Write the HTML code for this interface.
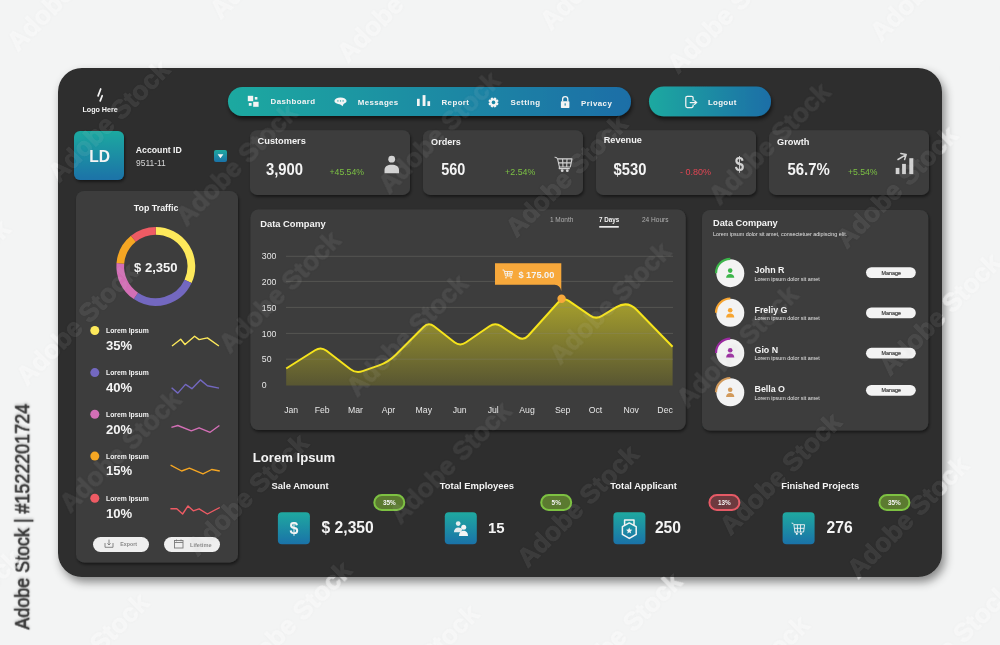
<!DOCTYPE html>
<html><head><meta charset="utf-8"><style>html,body{margin:0;padding:0;background:#f3f4f4;}svg{display:block;will-change:transform;}</style></head>
<body><svg width="1000" height="645" viewBox="0 0 1000 645">
<defs>
<linearGradient id="gNav" x1="0" y1="0" x2="1" y2="0"><stop offset="0" stop-color="#1fa9a0"/><stop offset="1" stop-color="#1a6ea7"/></linearGradient>
<linearGradient id="gV" x1="0" y1="0" x2="0" y2="1"><stop offset="0" stop-color="#1fa9a0"/><stop offset="1" stop-color="#1a72a8"/></linearGradient>
<linearGradient id="gFill" x1="0" y1="0" x2="0" y2="1"><stop offset="0" stop-color="#a7a02d"/><stop offset="1" stop-color="#585632"/></linearGradient>
<filter id="shP" x="-10%" y="-10%" width="130%" height="130%"><feDropShadow dx="3" dy="5" stdDeviation="5" flood-color="#000" flood-opacity="0.45"/></filter>
<filter id="shC" x="-10%" y="-10%" width="130%" height="130%"><feDropShadow dx="1" dy="2" stdDeviation="1.6" flood-color="#000" flood-opacity="0.5"/></filter>
<filter id="shN" x="-10%" y="-30%" width="130%" height="180%"><feDropShadow dx="1" dy="3" stdDeviation="2" flood-color="#000" flood-opacity="0.6"/></filter>
<filter id="shT" x="-10%" y="-10%" width="130%" height="130%"><feDropShadow dx="1.2" dy="0" stdDeviation="0.8" flood-color="#000" flood-opacity="0.25"/></filter>
<filter id="wmB" x="-20%" y="-20%" width="140%" height="140%"><feGaussianBlur stdDeviation="1.5"/></filter>
<mask id="mOut" maskUnits="userSpaceOnUse" x="0" y="0" width="1000" height="645"><rect width="1000" height="645" fill="#fff"/><rect x="58" y="68" width="884" height="509" rx="24" fill="#000"/></mask>
</defs>
<rect width="1000" height="645" fill="#f3f4f4"/>
<text transform="translate(29.2,629.6) rotate(-90)" font-family="Liberation Sans, sans-serif" font-size="20.5" textLength="225.6" lengthAdjust="spacingAndGlyphs" fill="#383838" stroke="#383838" stroke-width="0.6" filter="url(#shT)">Adobe Stock | #1522201724</text>
<rect x="58" y="68" width="884" height="509" rx="24" fill="#2d2d2d" filter="url(#shP)"/>
<g stroke="#f4f4f4" stroke-width="1.7" stroke-linecap="round"><line x1="100.7" y1="89" x2="98.1" y2="95.9"/><line x1="102.2" y1="95.7" x2="100.2" y2="100.9"/></g>
<text x="82.40" y="111.90" font-family="Liberation Sans, sans-serif" font-weight="bold" font-size="7.16" fill="#f4f4f4" >Logo Here</text>
<rect x="228" y="87" width="403" height="29" rx="14.5" fill="url(#gNav)" filter="url(#shN)"/>
<rect x="649" y="86.6" width="122" height="29.7" rx="14.8" fill="url(#gNav)" filter="url(#shN)"/>
<text x="270.60" y="104.20" font-family="Liberation Sans, sans-serif" font-weight="bold" font-size="7.90" fill="#f4f4f4"  letter-spacing="0.418">Dashboard</text>
<text x="357.80" y="104.90" font-family="Liberation Sans, sans-serif" font-weight="bold" font-size="7.90" fill="#f4f4f4"  letter-spacing="0.391">Messages</text>
<text x="441.50" y="104.90" font-family="Liberation Sans, sans-serif" font-weight="bold" font-size="7.90" fill="#f4f4f4"  letter-spacing="0.408">Report</text>
<text x="510.50" y="105.10" font-family="Liberation Sans, sans-serif" font-weight="bold" font-size="7.90" fill="#f4f4f4"  letter-spacing="0.470">Setting</text>
<text x="581.10" y="106.00" font-family="Liberation Sans, sans-serif" font-weight="bold" font-size="7.90" fill="#f4f4f4"  letter-spacing="0.433">Privacy</text>
<text x="707.90" y="105.40" font-family="Liberation Sans, sans-serif" font-weight="bold" font-size="7.90" fill="#f4f4f4"  letter-spacing="0.328">Logout</text>
<g fill="#f4f4f4"><rect x="247.8" y="95.8" width="5.4" height="5.4"/><rect x="254.8" y="97" width="2.6" height="2.6"/><rect x="248.8" y="103" width="2.8" height="2.8"/><rect x="253.2" y="101.8" width="5.4" height="5"/></g>
<g><ellipse cx="340.5" cy="100.9" rx="6.1" ry="3.5" fill="#f4f4f4"/><path d="M339.4,103.6 L342.6,106.3 L344,103.1Z" fill="#f4f4f4"/><circle cx="337.9" cy="100.9" r="0.7" fill="#1fa0a2"/><circle cx="340.5" cy="100.9" r="0.7" fill="#1fa0a2"/><circle cx="343.1" cy="100.9" r="0.7" fill="#1fa0a2"/></g>
<g fill="#f4f4f4"><rect x="417" y="98.8" width="2.7" height="7.2"/><rect x="422.6" y="95.1" width="2.9" height="10.9"/><rect x="427.4" y="101.2" width="2.7" height="4.8"/></g>
<g fill="#f4f4f4"><rect x="492.40" y="97.30" width="2.2" height="2.4" rx="0.4" transform="rotate(22.5 493.5 102.4)"/><rect x="492.40" y="97.30" width="2.2" height="2.4" rx="0.4" transform="rotate(67.5 493.5 102.4)"/><rect x="492.40" y="97.30" width="2.2" height="2.4" rx="0.4" transform="rotate(112.5 493.5 102.4)"/><rect x="492.40" y="97.30" width="2.2" height="2.4" rx="0.4" transform="rotate(157.5 493.5 102.4)"/><rect x="492.40" y="97.30" width="2.2" height="2.4" rx="0.4" transform="rotate(202.5 493.5 102.4)"/><rect x="492.40" y="97.30" width="2.2" height="2.4" rx="0.4" transform="rotate(247.5 493.5 102.4)"/><rect x="492.40" y="97.30" width="2.2" height="2.4" rx="0.4" transform="rotate(292.5 493.5 102.4)"/><rect x="492.40" y="97.30" width="2.2" height="2.4" rx="0.4" transform="rotate(337.5 493.5 102.4)"/><circle cx="493.5" cy="102.4" r="4.0"/></g><circle cx="493.5" cy="102.4" r="1.8" fill="#1a86a3"/>
<g><path d="M562.6,101.5 V99.2 A2.6,2.6 0 0 1 567.8,99.2 V101.5" fill="none" stroke="#f4f4f4" stroke-width="1.3"/><rect x="560.9" y="101.3" width="8.5" height="6.6" rx="0.6" fill="#f4f4f4"/><rect x="564.6" y="103.3" width="1.1" height="2.3" fill="#1a80a5"/></g>
<g fill="none" stroke="#f4f4f4" stroke-width="1.25" stroke-linecap="round"><path d="M693.1,100.4 V97.8 A1.5,1.5 0 0 0 691.6,96.3 H687.3 A1.5,1.5 0 0 0 685.8,97.8 V106 A1.5,1.5 0 0 0 687.3,107.5 H691.6 A1.5,1.5 0 0 0 693.1,106 V104.9"/><path d="M690.2,102.6 H696.4 M694.6,100.8 L696.6,102.6 L694.6,104.4"/></g>
<rect x="74" y="131" width="50" height="49" rx="6" fill="url(#gV)" filter="url(#shC)"/>
<text x="89.21" y="161.60" font-family="Liberation Sans, sans-serif" font-weight="bold" font-size="15.60" fill="#f4f4f4" >LD</text>
<text x="135.80" y="152.50" font-family="Liberation Sans, sans-serif" font-weight="bold" font-size="8.72" fill="#f4f4f4" >Account ID</text>
<text x="136.00" y="166.20" font-family="Liberation Sans, sans-serif" font-size="8.45" fill="#d6d6d6" >9511-11</text>
<rect x="214" y="150" width="13" height="12" rx="2" fill="url(#gV)"/>
<path d="M217.6,154.2 H223.4 L220.5,158.2Z" fill="#f4f4f4"/>
<rect x="76" y="191" width="162" height="371.4" rx="8" fill="#3c3d3d" filter="url(#shC)"/>
<text x="133.80" y="211.30" font-family="Liberation Sans, sans-serif" font-weight="bold" font-size="8.85" fill="#f4f4f4" >Top Traffic</text>
<path d="M155.80,230.80 A35.6,35.6 0 0 1 188.06,281.45" fill="none" stroke="#fde95b" stroke-width="7.7"/>
<path d="M188.06,281.45 A35.6,35.6 0 0 1 135.89,295.91" fill="none" stroke="#7368c0" stroke-width="7.7"/>
<path d="M135.89,295.91 A35.6,35.6 0 0 1 120.34,263.30" fill="none" stroke="#d36fb6" stroke-width="7.7"/>
<path d="M120.34,263.30 A35.6,35.6 0 0 1 133.40,238.73" fill="none" stroke="#f5a623" stroke-width="7.7"/>
<path d="M133.40,238.73 A35.6,35.6 0 0 1 155.80,230.80" fill="none" stroke="#ee5b64" stroke-width="7.7"/>
<text x="134.10" y="272.20" font-family="Liberation Sans, sans-serif" font-weight="bold" font-size="13.06" fill="#f4f4f4" >$ 2,350</text>
<circle cx="94.8" cy="330.5" r="4.5" fill="#fde95b"/>
<text x="106.00" y="332.90" font-family="Liberation Sans, sans-serif" font-weight="bold" font-size="6.80" fill="#f4f4f4" >Lorem Ipsum</text>
<text x="106.00" y="349.80" font-family="Liberation Sans, sans-serif" font-weight="bold" font-size="13.10" fill="#f4f4f4" >35%</text>
<polyline points="172,346 180.7,339.2 185,344.5 194.6,336.3 199.1,339.6 207.4,337.9 218.9,346" fill="none" stroke="#fde95b" stroke-width="1.4" stroke-linejoin="round"/>
<circle cx="94.8" cy="372.6" r="4.5" fill="#7368c0"/>
<text x="106.00" y="375.00" font-family="Liberation Sans, sans-serif" font-weight="bold" font-size="6.80" fill="#f4f4f4" >Lorem Ipsum</text>
<text x="106.00" y="391.90" font-family="Liberation Sans, sans-serif" font-weight="bold" font-size="13.10" fill="#f4f4f4" >40%</text>
<polyline points="171.6,387.7 177.8,393.1 185.5,384.4 191.9,388.7 200.4,379.9 207.4,385.8 219,388.1" fill="none" stroke="#7368c0" stroke-width="1.4" stroke-linejoin="round"/>
<circle cx="94.8" cy="414.2" r="4.5" fill="#d36fb6"/>
<text x="106.00" y="416.60" font-family="Liberation Sans, sans-serif" font-weight="bold" font-size="6.80" fill="#f4f4f4" >Lorem Ipsum</text>
<text x="106.00" y="433.50" font-family="Liberation Sans, sans-serif" font-weight="bold" font-size="13.10" fill="#f4f4f4" >20%</text>
<polyline points="171.4,427.4 177.8,425.5 191.3,430.9 199.1,427.8 210.1,432.3 219.4,425.5" fill="none" stroke="#d36fb6" stroke-width="1.4" stroke-linejoin="round"/>
<circle cx="94.8" cy="456.1" r="4.5" fill="#f5a623"/>
<text x="106.00" y="458.50" font-family="Liberation Sans, sans-serif" font-weight="bold" font-size="6.80" fill="#f4f4f4" >Lorem Ipsum</text>
<text x="106.00" y="475.40" font-family="Liberation Sans, sans-serif" font-weight="bold" font-size="13.10" fill="#f4f4f4" >15%</text>
<polyline points="170.6,465.2 181.6,471 189.4,468.1 203,473.9 211.7,469.5 219.8,471" fill="none" stroke="#f5a623" stroke-width="1.4" stroke-linejoin="round"/>
<circle cx="94.8" cy="498.2" r="4.5" fill="#ee5b64"/>
<text x="106.00" y="500.60" font-family="Liberation Sans, sans-serif" font-weight="bold" font-size="6.80" fill="#f4f4f4" >Lorem Ipsum</text>
<text x="106.00" y="517.50" font-family="Liberation Sans, sans-serif" font-weight="bold" font-size="13.10" fill="#f4f4f4" >10%</text>
<polyline points="170.4,508.8 176.8,508.8 182.6,514 188,505.9 193.3,510.8 199.1,508.8 207.4,514 219.8,507.5" fill="none" stroke="#ee5b64" stroke-width="1.4" stroke-linejoin="round"/>
<rect x="93" y="537" width="56" height="15" rx="7.5" fill="#efefef"/><rect x="164" y="537" width="56" height="15" rx="7.5" fill="#efefef"/>
<text x="120.20" y="546.40" font-family="Liberation Sans, sans-serif" font-weight="bold" font-size="5.30" fill="#8a8a8a" >Export</text>
<text x="190.00" y="546.60" font-family="Liberation Sans, sans-serif" font-weight="bold" font-size="5.61" fill="#8a8a8a" >Lifetime</text>
<g fill="none" stroke="#7a7a7a" stroke-width="0.9"><path d="M105,543 V547.3 H113 V543"/><path d="M109,539.6 V545 M107.4,543.4 L109,545 L110.6,543.4"/></g>
<g fill="none" stroke="#7a7a7a" stroke-width="0.9"><rect x="174.5" y="540.5" width="8.5" height="7.5"/><line x1="174.5" y1="542.5" x2="183" y2="542.5"/><path d="M176.5,539.5 V541.3 M181,539.5 V541.3"/></g>
<rect x="250" y="130.3" width="160" height="64.6" rx="7" fill="#3c3d3d" filter="url(#shC)"/>
<text x="257.60" y="144.30" font-family="Liberation Sans, sans-serif" font-weight="bold" font-size="9.24" fill="#f4f4f4" >Customers</text>
<text transform="translate(266.00,174.90) scale(1,1.08)" font-family="Liberation Sans, sans-serif" font-weight="bold" font-size="14.83" fill="#f4f4f4" >3,900</text>
<text x="329.50" y="174.90" font-family="Liberation Sans, sans-serif" font-size="8.68" fill="#7cc144" >+45.54%</text>
<rect x="423" y="130.3" width="160" height="64.6" rx="7" fill="#3c3d3d" filter="url(#shC)"/>
<text x="431.10" y="144.80" font-family="Liberation Sans, sans-serif" font-weight="bold" font-size="9.09" fill="#f4f4f4" >Orders</text>
<text transform="translate(441.30,174.90) scale(1,1.08)" font-family="Liberation Sans, sans-serif" font-weight="bold" font-size="14.45" fill="#f4f4f4" >560</text>
<text x="505.10" y="174.90" font-family="Liberation Sans, sans-serif" font-size="8.86" fill="#7cc144" >+2.54%</text>
<rect x="596" y="130.3" width="160" height="64.6" rx="7" fill="#3c3d3d" filter="url(#shC)"/>
<text x="603.70" y="143.40" font-family="Liberation Sans, sans-serif" font-weight="bold" font-size="9.19" fill="#f4f4f4" >Revenue</text>
<text transform="translate(613.60,174.90) scale(1,1.08)" font-family="Liberation Sans, sans-serif" font-weight="bold" font-size="14.74" fill="#f4f4f4" >$530</text>
<text x="680.10" y="174.90" font-family="Liberation Sans, sans-serif" font-size="8.99" fill="#e04553" >- 0.80%</text>
<rect x="769" y="130.3" width="160" height="64.6" rx="7" fill="#3c3d3d" filter="url(#shC)"/>
<text x="777.00" y="145.10" font-family="Liberation Sans, sans-serif" font-weight="bold" font-size="9.26" fill="#f4f4f4" >Growth</text>
<text transform="translate(787.50,174.90) scale(1,1.08)" font-family="Liberation Sans, sans-serif" font-weight="bold" font-size="14.96" fill="#f4f4f4" >56.7%</text>
<text x="847.90" y="174.90" font-family="Liberation Sans, sans-serif" font-size="8.68" fill="#7cc144" >+5.54%</text>
<circle cx="391.7" cy="159.2" r="3.4" fill="#d3d3d3"/><path d="M384.5,173.2 V170 C384.5,166.5 387.5,164.8 391.7,164.8 C395.9,164.8 399,166.5 399,170 V173.2Z" fill="#d3d3d3"/>
<g fill="none" stroke="#d3d3d3" stroke-width="1.1" stroke-linejoin="round"><path d="M554.6,157.3 Q556.6,157 557.6,158.9 H572 L570.3,167 H559.4 L557.6,158.9"/><path d="M558.5,162.9 H571.2 M562.6,158.9 L563,167 M567,158.9 L566.7,167 M559.4,167 L559.2,168.6 H569.8"/></g><circle cx="562.2" cy="170.7" r="1.4" fill="#d3d3d3"/><circle cx="567.3" cy="170.7" r="1.4" fill="#d3d3d3"/>
<text transform="translate(739.5,170.6) scale(0.84,1.04)" text-anchor="middle" font-family="Liberation Sans, sans-serif" font-weight="bold" font-size="20" fill="#d3d3d3">$</text>
<g fill="#d3d3d3"><rect x="895.7" y="167.9" width="3.7" height="6.2"/><rect x="902.1" y="163.9" width="3.8" height="10.2"/><rect x="909.3" y="158.2" width="4" height="15.9"/></g><g stroke="#d3d3d3" stroke-width="1.5" fill="none" stroke-linecap="round" stroke-linejoin="round"><path d="M898,159.5 L906.2,154.6 M900.8,153.4 L906.2,154.6 L904.6,159.6"/></g>
<rect x="250.5" y="209.5" width="435.2" height="220.6" rx="8" fill="#3c3d3d" filter="url(#shC)"/>
<text x="260.30" y="227.40" font-family="Liberation Sans, sans-serif" font-weight="bold" font-size="9.33" fill="#f4f4f4" >Data Company</text>
<text x="549.90" y="222.20" font-family="Liberation Sans, sans-serif" font-size="6.51" fill="#b0b0b0" >1 Month</text>
<text x="599.10" y="222.20" font-family="Liberation Sans, sans-serif" font-weight="bold" font-size="6.29" fill="#f4f4f4" >7 Days</text>
<rect x="599.2" y="226" width="19.6" height="1.7" fill="#e8e8e8"/>
<text x="641.90" y="222.20" font-family="Liberation Sans, sans-serif" font-size="6.58" fill="#b0b0b0" >24 Hours</text>
<path d="M286.20,368.50 L315.08,350.24 Q321.00,346.50 326.54,350.78 L350.46,369.22 Q356.00,373.50 362.60,371.16 L379.07,365.34 Q388.50,362.00 395.57,354.93 L423.55,326.95 Q428.50,322.00 434.03,326.30 L454.47,342.20 Q460.00,346.50 465.77,342.53 L489.43,326.27 Q495.20,322.30 501.04,326.16 L517.66,337.14 Q523.50,341.00 528.18,335.79 L558.32,302.21 Q563.00,297.00 568.78,300.94 L590.22,315.56 Q596.00,319.50 601.99,315.88 L616.37,307.21 Q627.50,300.50 636.57,309.81 L672.60,346.80 L672.6,385.6 L286.2,385.6Z" fill="url(#gFill)"/>
<line x1="286" y1="256.3" x2="673" y2="256.3" stroke="#8a8a80" stroke-opacity="0.45" stroke-width="0.7"/>
<text x="261.80" y="259.40" font-family="Liberation Sans, sans-serif" font-size="8.70" fill="#e6e6e6" >300</text>
<line x1="286" y1="281.4" x2="673" y2="281.4" stroke="#8a8a80" stroke-opacity="0.45" stroke-width="0.7"/>
<text x="261.80" y="284.50" font-family="Liberation Sans, sans-serif" font-size="8.70" fill="#e6e6e6" >200</text>
<line x1="286" y1="307.4" x2="673" y2="307.4" stroke="#8a8a80" stroke-opacity="0.45" stroke-width="0.7"/>
<text x="261.80" y="310.50" font-family="Liberation Sans, sans-serif" font-size="8.70" fill="#e6e6e6" >150</text>
<line x1="286" y1="333.4" x2="673" y2="333.4" stroke="#8a8a80" stroke-opacity="0.45" stroke-width="0.7"/>
<text x="261.80" y="336.50" font-family="Liberation Sans, sans-serif" font-size="8.70" fill="#e6e6e6" >100</text>
<line x1="286" y1="359.2" x2="673" y2="359.2" stroke="#8a8a80" stroke-opacity="0.45" stroke-width="0.7"/>
<text x="261.80" y="362.30" font-family="Liberation Sans, sans-serif" font-size="8.70" fill="#e6e6e6" >50</text>
<text x="261.80" y="388.30" font-family="Liberation Sans, sans-serif" font-size="8.70" fill="#e6e6e6" >0</text>
<path d="M286.20,368.50 L315.08,350.24 Q321.00,346.50 326.54,350.78 L350.46,369.22 Q356.00,373.50 362.60,371.16 L379.07,365.34 Q388.50,362.00 395.57,354.93 L423.55,326.95 Q428.50,322.00 434.03,326.30 L454.47,342.20 Q460.00,346.50 465.77,342.53 L489.43,326.27 Q495.20,322.30 501.04,326.16 L517.66,337.14 Q523.50,341.00 528.18,335.79 L558.32,302.21 Q563.00,297.00 568.78,300.94 L590.22,315.56 Q596.00,319.50 601.99,315.88 L616.37,307.21 Q627.50,300.50 636.57,309.81 L672.60,346.80" fill="none" stroke="#f6e41c" stroke-width="2"/>
<text x="284.19" y="412.80" font-family="Liberation Sans, sans-serif" font-size="8.70" fill="#e6e6e6" >Jan</text>
<text x="314.71" y="412.80" font-family="Liberation Sans, sans-serif" font-size="8.70" fill="#e6e6e6" >Feb</text>
<text x="347.91" y="412.80" font-family="Liberation Sans, sans-serif" font-size="8.70" fill="#e6e6e6" >Mar</text>
<text x="381.64" y="412.80" font-family="Liberation Sans, sans-serif" font-size="8.70" fill="#e6e6e6" >Apr</text>
<text x="415.58" y="412.80" font-family="Liberation Sans, sans-serif" font-size="8.70" fill="#e6e6e6" >May</text>
<text x="452.69" y="412.80" font-family="Liberation Sans, sans-serif" font-size="8.70" fill="#e6e6e6" >Jun</text>
<text x="487.64" y="412.80" font-family="Liberation Sans, sans-serif" font-size="8.70" fill="#e6e6e6" >Jul</text>
<text x="519.26" y="412.80" font-family="Liberation Sans, sans-serif" font-size="8.70" fill="#e6e6e6" >Aug</text>
<text x="554.96" y="412.80" font-family="Liberation Sans, sans-serif" font-size="8.70" fill="#e6e6e6" >Sep</text>
<text x="588.74" y="412.80" font-family="Liberation Sans, sans-serif" font-size="8.70" fill="#e6e6e6" >Oct</text>
<text x="623.47" y="412.80" font-family="Liberation Sans, sans-serif" font-size="8.70" fill="#e6e6e6" >Nov</text>
<text x="657.37" y="412.80" font-family="Liberation Sans, sans-serif" font-size="8.70" fill="#e6e6e6" >Dec</text>
<path d="M495,263.3 H561.3 V291 Q560,285 554.8,284.8 H495Z" fill="#f7a83b"/>
<text x="518.40" y="278.00" font-family="Liberation Sans, sans-serif" font-weight="bold" font-size="9.25" fill="#f4f4f4" >$ 175.00</text>
<g fill="none" stroke="#f4f4f4" stroke-width="0.9"><path d="M502.5,270 H504 L505.5,276 H511.5 L512.5,271.5 H504.5 M505,273.8 H512 M507.5,271.5 V276 M510,271.5 V276"/></g><circle cx="506" cy="277.7" r="0.8" fill="#f4f4f4"/><circle cx="511" cy="277.7" r="0.8" fill="#f4f4f4"/>
<circle cx="561.6" cy="298.8" r="4.2" fill="#f7a83b"/>
<rect x="702" y="210" width="226.3" height="220.6" rx="8" fill="#3c3d3d" filter="url(#shC)"/>
<text x="713.00" y="226.40" font-family="Liberation Sans, sans-serif" font-weight="bold" font-size="9.25" fill="#f4f4f4" >Data Company</text>
<text x="713.00" y="236.00" font-family="Liberation Sans, sans-serif" font-size="5.40" fill="#e0e0e0" >Lorem ipsum dolor sit amet, consectetuer adipiscing elit.</text>
<circle cx="730.3" cy="273.2" r="14" fill="#f3f3f3"/>
<path d="M716.00,273.20 A14.3,14.3 0 0 1 730.30,258.90" fill="none" stroke="#3cb54a" stroke-width="2.2"/>
<circle cx="730.2" cy="270.6" r="2.3" fill="#3cb54a"/><path d="M726.1,277.8 C726.1,275.1 727.9,273.9 730.2,273.9 C732.5,273.9 734.3,275.1 734.3,277.8 Z" fill="#3cb54a"/>
<text x="754.50" y="273.20" font-family="Liberation Sans, sans-serif" font-weight="bold" font-size="8.85" fill="#f4f4f4" >John R</text>
<text x="754.50" y="280.60" font-family="Liberation Sans, sans-serif" font-size="5.41" fill="#e6e6e6" >Lorem ipsum dolor sit amet</text>
<rect x="866" y="267.2" width="49.8" height="10.8" rx="5.4" fill="#f3f3f3"/>
<text x="881.44" y="274.50" font-family="Liberation Sans, sans-serif" font-size="5.40" fill="#333" stroke="#333" stroke-width="0.15">Manage</text>
<circle cx="730.3" cy="312.8" r="14" fill="#f3f3f3"/>
<path d="M716.00,312.80 A14.3,14.3 0 0 1 730.30,298.50" fill="none" stroke="#f7a531" stroke-width="2.2"/>
<circle cx="730.2" cy="310.2" r="2.3" fill="#f7a531"/><path d="M726.1,317.4 C726.1,314.7 727.9,313.5 730.2,313.5 C732.5,313.5 734.3,314.7 734.3,317.4 Z" fill="#f7a531"/>
<text x="754.50" y="312.80" font-family="Liberation Sans, sans-serif" font-weight="bold" font-size="8.85" fill="#f4f4f4" >Freliy G</text>
<text x="754.50" y="320.20" font-family="Liberation Sans, sans-serif" font-size="5.41" fill="#e6e6e6" >Lorem ipsum dolor sit amet</text>
<rect x="866" y="307.5" width="49.8" height="10.8" rx="5.4" fill="#f3f3f3"/>
<text x="881.44" y="314.80" font-family="Liberation Sans, sans-serif" font-size="5.40" fill="#333" stroke="#333" stroke-width="0.15">Manage</text>
<circle cx="730.3" cy="352.9" r="14" fill="#f3f3f3"/>
<path d="M716.00,352.90 A14.3,14.3 0 0 1 730.30,338.60" fill="none" stroke="#9b2aa0" stroke-width="2.2"/>
<circle cx="730.2" cy="350.3" r="2.3" fill="#9b2aa0"/><path d="M726.1,357.5 C726.1,354.8 727.9,353.6 730.2,353.6 C732.5,353.6 734.3,354.8 734.3,357.5 Z" fill="#9b2aa0"/>
<text x="754.50" y="352.90" font-family="Liberation Sans, sans-serif" font-weight="bold" font-size="8.85" fill="#f4f4f4" >Gio N</text>
<text x="754.50" y="360.30" font-family="Liberation Sans, sans-serif" font-size="5.41" fill="#e6e6e6" >Lorem ipsum dolor sit amet</text>
<rect x="866" y="347.8" width="49.8" height="10.8" rx="5.4" fill="#f3f3f3"/>
<text x="881.44" y="355.10" font-family="Liberation Sans, sans-serif" font-size="5.40" fill="#333" stroke="#333" stroke-width="0.15">Manage</text>
<circle cx="730.3" cy="392.3" r="14" fill="#f3f3f3"/>
<path d="M716.00,392.30 A14.3,14.3 0 0 1 730.30,378.00" fill="none" stroke="#d29a5b" stroke-width="2.2"/>
<circle cx="730.2" cy="389.7" r="2.3" fill="#d29a5b"/><path d="M726.1,396.9 C726.1,394.2 727.9,393.0 730.2,393.0 C732.5,393.0 734.3,394.2 734.3,396.9 Z" fill="#d29a5b"/>
<text x="754.50" y="392.30" font-family="Liberation Sans, sans-serif" font-weight="bold" font-size="8.85" fill="#f4f4f4" >Bella O</text>
<text x="754.50" y="399.70" font-family="Liberation Sans, sans-serif" font-size="5.41" fill="#e6e6e6" >Lorem ipsum dolor sit amet</text>
<rect x="866" y="384.9" width="49.8" height="10.8" rx="5.4" fill="#f3f3f3"/>
<text x="881.44" y="392.20" font-family="Liberation Sans, sans-serif" font-size="5.40" fill="#333" stroke="#333" stroke-width="0.15">Manage</text>
<text x="252.80" y="461.90" font-family="Liberation Sans, sans-serif" font-weight="bold" font-size="13.12" fill="#f4f4f4" >Lorem Ipsum</text>
<text x="271.60" y="488.80" font-family="Liberation Sans, sans-serif" font-weight="bold" font-size="9.40" fill="#f4f4f4" >Sale Amount</text>
<rect x="374.3" y="495" width="30" height="15" rx="7.5" fill="#5b7a30" stroke="#7dc142" stroke-width="2"/>
<text x="382.89" y="505.00" font-family="Liberation Sans, sans-serif" font-weight="bold" font-size="6.40" fill="#f4f4f4" >35%</text>
<rect x="277.9" y="512.3" width="32" height="32" rx="4" fill="url(#gV)"/>
<text x="321.60" y="533.00" font-family="Liberation Sans, sans-serif" font-weight="bold" font-size="15.61" fill="#f4f4f4" >$ 2,350</text>
<text x="439.80" y="488.80" font-family="Liberation Sans, sans-serif" font-weight="bold" font-size="9.43" fill="#f4f4f4" >Total Employees</text>
<rect x="541.2" y="495" width="30" height="15" rx="7.5" fill="#5b7a30" stroke="#7dc142" stroke-width="2"/>
<text x="551.58" y="505.00" font-family="Liberation Sans, sans-serif" font-weight="bold" font-size="6.40" fill="#f4f4f4" >5%</text>
<rect x="444.8" y="512.3" width="32" height="32" rx="4" fill="url(#gV)"/>
<text x="488.00" y="533.00" font-family="Liberation Sans, sans-serif" font-weight="bold" font-size="14.92" fill="#f4f4f4" >15</text>
<text x="610.30" y="488.80" font-family="Liberation Sans, sans-serif" font-weight="bold" font-size="9.37" fill="#f4f4f4" >Total Applicant</text>
<rect x="709.4" y="495" width="30" height="15" rx="7.5" fill="#6e3a3f" stroke="#e65a66" stroke-width="2"/>
<text x="717.99" y="505.00" font-family="Liberation Sans, sans-serif" font-weight="bold" font-size="6.40" fill="#f4f4f4" >13%</text>
<rect x="613.4" y="512.3" width="32" height="32" rx="4" fill="url(#gV)"/>
<text x="654.90" y="533.00" font-family="Liberation Sans, sans-serif" font-weight="bold" font-size="15.65" fill="#f4f4f4" >250</text>
<text x="781.20" y="488.80" font-family="Liberation Sans, sans-serif" font-weight="bold" font-size="9.39" fill="#f4f4f4" >Finished Projects</text>
<rect x="879.4" y="495" width="30" height="15" rx="7.5" fill="#5b7a30" stroke="#7dc142" stroke-width="2"/>
<text x="887.99" y="505.00" font-family="Liberation Sans, sans-serif" font-weight="bold" font-size="6.40" fill="#f4f4f4" >35%</text>
<rect x="782.6" y="512.3" width="32" height="32" rx="4" fill="url(#gV)"/>
<text x="826.60" y="533.00" font-family="Liberation Sans, sans-serif" font-weight="bold" font-size="15.65" fill="#f4f4f4" >276</text>
<text x="289.46" y="533.50" font-family="Liberation Sans, sans-serif" font-weight="bold" font-size="16.00" fill="#f4f4f4" >$</text>
<g fill="#f4f4f4"><circle cx="458.2" cy="523.6" r="2.35" fill-opacity="0.92"/><path d="M453.9,532.3 C453.9,529 456,527.5 458.3,527.5 C460.2,527.5 461.6,528.2 462.3,529.3 L461,532.3 Z" fill-opacity="0.92"/><circle cx="463.7" cy="527.2" r="2.5"/><path d="M459,535.9 C459,532.4 461.2,530.8 463.5,530.8 C465.8,530.8 468,532.4 468,535.9 Z"/></g>
<g fill="none" stroke="#f4f4f4" stroke-width="1.5" stroke-linejoin="round"><path d="M629.3,522.9 L636.2,526.7 V534.3 L629.3,538.4 L622.4,534.3 V526.7Z"/><path d="M624.6,525 V520 H634 V525"/></g><path d="M629.2,527.6 L630.1,529.6 L632.3,529.8 L630.6,531.2 L631.1,533.4 L629.2,532.2 L627.3,533.4 L627.8,531.2 L626.1,529.8 L628.3,529.6Z" fill="#f4f4f4"/>
<g fill="none" stroke="#f4f4f4" stroke-width="0.9" stroke-linejoin="round"><path d="M791.6,523.1 Q793.2,522.9 793.9,524.5 L794.9,532 H803.6 L804.6,524.7 H793.9"/><path d="M794.4,528.3 H804.1 M797.3,524.7 L797.7,532 M800.6,524.7 L800.4,532 M795,532 L795.3,533"/></g><circle cx="796.8" cy="533.8" r="1.1" fill="#f4f4f4"/><circle cx="801" cy="533.8" r="1.1" fill="#f4f4f4"/>
<g font-family="Liberation Sans, sans-serif" font-weight="bold" font-size="26" fill="#000" fill-opacity="0.035" filter="url(#wmB)"><text transform="translate(-109.6,9.0) rotate(-45)" textLength="159" lengthAdjust="spacingAndGlyphs" >Adobe Stock</text><text transform="translate(-143.8,215.8) rotate(-45)" textLength="159" lengthAdjust="spacingAndGlyphs" >Adobe Stock</text><text transform="translate(17.7,52.3) rotate(-45)" textLength="159" lengthAdjust="spacingAndGlyphs" >Adobe Stock</text><text transform="translate(-100.5,343.1) rotate(-45)" textLength="159" lengthAdjust="spacingAndGlyphs" >Adobe Stock</text><text transform="translate(59.0,183.6) rotate(-45)" textLength="159" lengthAdjust="spacingAndGlyphs" >Adobe Stock</text><text transform="translate(220.6,20.1) rotate(-45)" textLength="159" lengthAdjust="spacingAndGlyphs" >Adobe Stock</text><text transform="translate(-132.6,546.0) rotate(-45)" textLength="159" lengthAdjust="spacingAndGlyphs" >Adobe Stock</text><text transform="translate(26.9,386.5) rotate(-45)" textLength="159" lengthAdjust="spacingAndGlyphs" >Adobe Stock</text><text transform="translate(186.4,227.0) rotate(-45)" textLength="159" lengthAdjust="spacingAndGlyphs" >Adobe Stock</text><text transform="translate(347.9,63.5) rotate(-45)" textLength="159" lengthAdjust="spacingAndGlyphs" >Adobe Stock</text><text transform="translate(-89.3,673.3) rotate(-45)" textLength="159" lengthAdjust="spacingAndGlyphs" >Adobe Stock</text><text transform="translate(70.2,513.8) rotate(-45)" textLength="159" lengthAdjust="spacingAndGlyphs" >Adobe Stock</text><text transform="translate(229.7,354.3) rotate(-45)" textLength="159" lengthAdjust="spacingAndGlyphs" >Adobe Stock</text><text transform="translate(389.2,194.8) rotate(-45)" textLength="159" lengthAdjust="spacingAndGlyphs" >Adobe Stock</text><text transform="translate(550.8,31.3) rotate(-45)" textLength="159" lengthAdjust="spacingAndGlyphs" >Adobe Stock</text><text transform="translate(38.1,716.7) rotate(-45)" textLength="159" lengthAdjust="spacingAndGlyphs" >Adobe Stock</text><text transform="translate(197.6,557.2) rotate(-45)" textLength="159" lengthAdjust="spacingAndGlyphs" >Adobe Stock</text><text transform="translate(357.1,397.7) rotate(-45)" textLength="159" lengthAdjust="spacingAndGlyphs" >Adobe Stock</text><text transform="translate(516.6,238.2) rotate(-45)" textLength="159" lengthAdjust="spacingAndGlyphs" >Adobe Stock</text><text transform="translate(678.1,74.7) rotate(-45)" textLength="159" lengthAdjust="spacingAndGlyphs" >Adobe Stock</text><text transform="translate(81.4,844.0) rotate(-45)" textLength="159" lengthAdjust="spacingAndGlyphs" >Adobe Stock</text><text transform="translate(240.9,684.5) rotate(-45)" textLength="159" lengthAdjust="spacingAndGlyphs" >Adobe Stock</text><text transform="translate(400.4,525.0) rotate(-45)" textLength="159" lengthAdjust="spacingAndGlyphs" >Adobe Stock</text><text transform="translate(560.0,365.6) rotate(-45)" textLength="159" lengthAdjust="spacingAndGlyphs" >Adobe Stock</text><text transform="translate(719.5,206.1) rotate(-45)" textLength="159" lengthAdjust="spacingAndGlyphs" >Adobe Stock</text><text transform="translate(881.0,42.6) rotate(-45)" textLength="159" lengthAdjust="spacingAndGlyphs" >Adobe Stock</text><text transform="translate(368.3,727.9) rotate(-45)" textLength="159" lengthAdjust="spacingAndGlyphs" >Adobe Stock</text><text transform="translate(527.8,568.4) rotate(-45)" textLength="159" lengthAdjust="spacingAndGlyphs" >Adobe Stock</text><text transform="translate(687.3,408.9) rotate(-45)" textLength="159" lengthAdjust="spacingAndGlyphs" >Adobe Stock</text><text transform="translate(846.8,249.4) rotate(-45)" textLength="159" lengthAdjust="spacingAndGlyphs" >Adobe Stock</text><text transform="translate(1008.3,85.9) rotate(-45)" textLength="159" lengthAdjust="spacingAndGlyphs" >Adobe Stock</text><text transform="translate(411.6,855.2) rotate(-45)" textLength="159" lengthAdjust="spacingAndGlyphs" >Adobe Stock</text><text transform="translate(571.1,695.7) rotate(-45)" textLength="159" lengthAdjust="spacingAndGlyphs" >Adobe Stock</text><text transform="translate(730.6,536.2) rotate(-45)" textLength="159" lengthAdjust="spacingAndGlyphs" >Adobe Stock</text><text transform="translate(890.1,376.7) rotate(-45)" textLength="159" lengthAdjust="spacingAndGlyphs" >Adobe Stock</text><text transform="translate(1049.6,217.2) rotate(-45)" textLength="159" lengthAdjust="spacingAndGlyphs" >Adobe Stock</text><text transform="translate(698.5,739.1) rotate(-45)" textLength="159" lengthAdjust="spacingAndGlyphs" >Adobe Stock</text><text transform="translate(858.0,579.6) rotate(-45)" textLength="159" lengthAdjust="spacingAndGlyphs" >Adobe Stock</text><text transform="translate(1017.5,420.1) rotate(-45)" textLength="159" lengthAdjust="spacingAndGlyphs" >Adobe Stock</text><text transform="translate(901.4,706.9) rotate(-45)" textLength="159" lengthAdjust="spacingAndGlyphs" >Adobe Stock</text><text transform="translate(1060.8,547.5) rotate(-45)" textLength="159" lengthAdjust="spacingAndGlyphs" >Adobe Stock</text><text transform="translate(1028.7,750.3) rotate(-45)" textLength="159" lengthAdjust="spacingAndGlyphs" >Adobe Stock</text></g>
<g font-family="Liberation Sans, sans-serif" font-weight="bold" font-size="26" fill="#fff" stroke="#fff" stroke-width="0.8" opacity="0.075"><text transform="translate(-109.6,9.0) rotate(-45)" textLength="159" lengthAdjust="spacingAndGlyphs" >Adobe Stock</text><text transform="translate(-143.8,215.8) rotate(-45)" textLength="159" lengthAdjust="spacingAndGlyphs" >Adobe Stock</text><text transform="translate(17.7,52.3) rotate(-45)" textLength="159" lengthAdjust="spacingAndGlyphs" >Adobe Stock</text><text transform="translate(-100.5,343.1) rotate(-45)" textLength="159" lengthAdjust="spacingAndGlyphs" >Adobe Stock</text><text transform="translate(59.0,183.6) rotate(-45)" textLength="159" lengthAdjust="spacingAndGlyphs" >Adobe Stock</text><text transform="translate(220.6,20.1) rotate(-45)" textLength="159" lengthAdjust="spacingAndGlyphs" >Adobe Stock</text><text transform="translate(-132.6,546.0) rotate(-45)" textLength="159" lengthAdjust="spacingAndGlyphs" >Adobe Stock</text><text transform="translate(26.9,386.5) rotate(-45)" textLength="159" lengthAdjust="spacingAndGlyphs" >Adobe Stock</text><text transform="translate(186.4,227.0) rotate(-45)" textLength="159" lengthAdjust="spacingAndGlyphs" >Adobe Stock</text><text transform="translate(347.9,63.5) rotate(-45)" textLength="159" lengthAdjust="spacingAndGlyphs" >Adobe Stock</text><text transform="translate(-89.3,673.3) rotate(-45)" textLength="159" lengthAdjust="spacingAndGlyphs" >Adobe Stock</text><text transform="translate(70.2,513.8) rotate(-45)" textLength="159" lengthAdjust="spacingAndGlyphs" >Adobe Stock</text><text transform="translate(229.7,354.3) rotate(-45)" textLength="159" lengthAdjust="spacingAndGlyphs" >Adobe Stock</text><text transform="translate(389.2,194.8) rotate(-45)" textLength="159" lengthAdjust="spacingAndGlyphs" >Adobe Stock</text><text transform="translate(550.8,31.3) rotate(-45)" textLength="159" lengthAdjust="spacingAndGlyphs" >Adobe Stock</text><text transform="translate(38.1,716.7) rotate(-45)" textLength="159" lengthAdjust="spacingAndGlyphs" >Adobe Stock</text><text transform="translate(197.6,557.2) rotate(-45)" textLength="159" lengthAdjust="spacingAndGlyphs" >Adobe Stock</text><text transform="translate(357.1,397.7) rotate(-45)" textLength="159" lengthAdjust="spacingAndGlyphs" >Adobe Stock</text><text transform="translate(516.6,238.2) rotate(-45)" textLength="159" lengthAdjust="spacingAndGlyphs" >Adobe Stock</text><text transform="translate(678.1,74.7) rotate(-45)" textLength="159" lengthAdjust="spacingAndGlyphs" >Adobe Stock</text><text transform="translate(81.4,844.0) rotate(-45)" textLength="159" lengthAdjust="spacingAndGlyphs" >Adobe Stock</text><text transform="translate(240.9,684.5) rotate(-45)" textLength="159" lengthAdjust="spacingAndGlyphs" >Adobe Stock</text><text transform="translate(400.4,525.0) rotate(-45)" textLength="159" lengthAdjust="spacingAndGlyphs" >Adobe Stock</text><text transform="translate(560.0,365.6) rotate(-45)" textLength="159" lengthAdjust="spacingAndGlyphs" >Adobe Stock</text><text transform="translate(719.5,206.1) rotate(-45)" textLength="159" lengthAdjust="spacingAndGlyphs" >Adobe Stock</text><text transform="translate(881.0,42.6) rotate(-45)" textLength="159" lengthAdjust="spacingAndGlyphs" >Adobe Stock</text><text transform="translate(368.3,727.9) rotate(-45)" textLength="159" lengthAdjust="spacingAndGlyphs" >Adobe Stock</text><text transform="translate(527.8,568.4) rotate(-45)" textLength="159" lengthAdjust="spacingAndGlyphs" >Adobe Stock</text><text transform="translate(687.3,408.9) rotate(-45)" textLength="159" lengthAdjust="spacingAndGlyphs" >Adobe Stock</text><text transform="translate(846.8,249.4) rotate(-45)" textLength="159" lengthAdjust="spacingAndGlyphs" >Adobe Stock</text><text transform="translate(1008.3,85.9) rotate(-45)" textLength="159" lengthAdjust="spacingAndGlyphs" >Adobe Stock</text><text transform="translate(411.6,855.2) rotate(-45)" textLength="159" lengthAdjust="spacingAndGlyphs" >Adobe Stock</text><text transform="translate(571.1,695.7) rotate(-45)" textLength="159" lengthAdjust="spacingAndGlyphs" >Adobe Stock</text><text transform="translate(730.6,536.2) rotate(-45)" textLength="159" lengthAdjust="spacingAndGlyphs" >Adobe Stock</text><text transform="translate(890.1,376.7) rotate(-45)" textLength="159" lengthAdjust="spacingAndGlyphs" >Adobe Stock</text><text transform="translate(1049.6,217.2) rotate(-45)" textLength="159" lengthAdjust="spacingAndGlyphs" >Adobe Stock</text><text transform="translate(698.5,739.1) rotate(-45)" textLength="159" lengthAdjust="spacingAndGlyphs" >Adobe Stock</text><text transform="translate(858.0,579.6) rotate(-45)" textLength="159" lengthAdjust="spacingAndGlyphs" >Adobe Stock</text><text transform="translate(1017.5,420.1) rotate(-45)" textLength="159" lengthAdjust="spacingAndGlyphs" >Adobe Stock</text><text transform="translate(901.4,706.9) rotate(-45)" textLength="159" lengthAdjust="spacingAndGlyphs" >Adobe Stock</text><text transform="translate(1060.8,547.5) rotate(-45)" textLength="159" lengthAdjust="spacingAndGlyphs" >Adobe Stock</text><text transform="translate(1028.7,750.3) rotate(-45)" textLength="159" lengthAdjust="spacingAndGlyphs" >Adobe Stock</text></g>
<g font-family="Liberation Sans, sans-serif" font-weight="bold" font-size="26" fill="#fff" stroke="#fff" stroke-width="0.8" opacity="0.5" mask="url(#mOut)"><text transform="translate(-109.6,9.0) rotate(-45)" textLength="159" lengthAdjust="spacingAndGlyphs" >Adobe Stock</text><text transform="translate(-143.8,215.8) rotate(-45)" textLength="159" lengthAdjust="spacingAndGlyphs" >Adobe Stock</text><text transform="translate(17.7,52.3) rotate(-45)" textLength="159" lengthAdjust="spacingAndGlyphs" >Adobe Stock</text><text transform="translate(-100.5,343.1) rotate(-45)" textLength="159" lengthAdjust="spacingAndGlyphs" >Adobe Stock</text><text transform="translate(59.0,183.6) rotate(-45)" textLength="159" lengthAdjust="spacingAndGlyphs" >Adobe Stock</text><text transform="translate(220.6,20.1) rotate(-45)" textLength="159" lengthAdjust="spacingAndGlyphs" >Adobe Stock</text><text transform="translate(-132.6,546.0) rotate(-45)" textLength="159" lengthAdjust="spacingAndGlyphs" >Adobe Stock</text><text transform="translate(26.9,386.5) rotate(-45)" textLength="159" lengthAdjust="spacingAndGlyphs" >Adobe Stock</text><text transform="translate(186.4,227.0) rotate(-45)" textLength="159" lengthAdjust="spacingAndGlyphs" >Adobe Stock</text><text transform="translate(347.9,63.5) rotate(-45)" textLength="159" lengthAdjust="spacingAndGlyphs" >Adobe Stock</text><text transform="translate(-89.3,673.3) rotate(-45)" textLength="159" lengthAdjust="spacingAndGlyphs" >Adobe Stock</text><text transform="translate(70.2,513.8) rotate(-45)" textLength="159" lengthAdjust="spacingAndGlyphs" >Adobe Stock</text><text transform="translate(229.7,354.3) rotate(-45)" textLength="159" lengthAdjust="spacingAndGlyphs" >Adobe Stock</text><text transform="translate(389.2,194.8) rotate(-45)" textLength="159" lengthAdjust="spacingAndGlyphs" >Adobe Stock</text><text transform="translate(550.8,31.3) rotate(-45)" textLength="159" lengthAdjust="spacingAndGlyphs" >Adobe Stock</text><text transform="translate(38.1,716.7) rotate(-45)" textLength="159" lengthAdjust="spacingAndGlyphs" >Adobe Stock</text><text transform="translate(197.6,557.2) rotate(-45)" textLength="159" lengthAdjust="spacingAndGlyphs" >Adobe Stock</text><text transform="translate(357.1,397.7) rotate(-45)" textLength="159" lengthAdjust="spacingAndGlyphs" >Adobe Stock</text><text transform="translate(516.6,238.2) rotate(-45)" textLength="159" lengthAdjust="spacingAndGlyphs" >Adobe Stock</text><text transform="translate(678.1,74.7) rotate(-45)" textLength="159" lengthAdjust="spacingAndGlyphs" >Adobe Stock</text><text transform="translate(81.4,844.0) rotate(-45)" textLength="159" lengthAdjust="spacingAndGlyphs" >Adobe Stock</text><text transform="translate(240.9,684.5) rotate(-45)" textLength="159" lengthAdjust="spacingAndGlyphs" >Adobe Stock</text><text transform="translate(400.4,525.0) rotate(-45)" textLength="159" lengthAdjust="spacingAndGlyphs" >Adobe Stock</text><text transform="translate(560.0,365.6) rotate(-45)" textLength="159" lengthAdjust="spacingAndGlyphs" >Adobe Stock</text><text transform="translate(719.5,206.1) rotate(-45)" textLength="159" lengthAdjust="spacingAndGlyphs" >Adobe Stock</text><text transform="translate(881.0,42.6) rotate(-45)" textLength="159" lengthAdjust="spacingAndGlyphs" >Adobe Stock</text><text transform="translate(368.3,727.9) rotate(-45)" textLength="159" lengthAdjust="spacingAndGlyphs" >Adobe Stock</text><text transform="translate(527.8,568.4) rotate(-45)" textLength="159" lengthAdjust="spacingAndGlyphs" >Adobe Stock</text><text transform="translate(687.3,408.9) rotate(-45)" textLength="159" lengthAdjust="spacingAndGlyphs" >Adobe Stock</text><text transform="translate(846.8,249.4) rotate(-45)" textLength="159" lengthAdjust="spacingAndGlyphs" >Adobe Stock</text><text transform="translate(1008.3,85.9) rotate(-45)" textLength="159" lengthAdjust="spacingAndGlyphs" >Adobe Stock</text><text transform="translate(411.6,855.2) rotate(-45)" textLength="159" lengthAdjust="spacingAndGlyphs" >Adobe Stock</text><text transform="translate(571.1,695.7) rotate(-45)" textLength="159" lengthAdjust="spacingAndGlyphs" >Adobe Stock</text><text transform="translate(730.6,536.2) rotate(-45)" textLength="159" lengthAdjust="spacingAndGlyphs" >Adobe Stock</text><text transform="translate(890.1,376.7) rotate(-45)" textLength="159" lengthAdjust="spacingAndGlyphs" >Adobe Stock</text><text transform="translate(1049.6,217.2) rotate(-45)" textLength="159" lengthAdjust="spacingAndGlyphs" >Adobe Stock</text><text transform="translate(698.5,739.1) rotate(-45)" textLength="159" lengthAdjust="spacingAndGlyphs" >Adobe Stock</text><text transform="translate(858.0,579.6) rotate(-45)" textLength="159" lengthAdjust="spacingAndGlyphs" >Adobe Stock</text><text transform="translate(1017.5,420.1) rotate(-45)" textLength="159" lengthAdjust="spacingAndGlyphs" >Adobe Stock</text><text transform="translate(901.4,706.9) rotate(-45)" textLength="159" lengthAdjust="spacingAndGlyphs" >Adobe Stock</text><text transform="translate(1060.8,547.5) rotate(-45)" textLength="159" lengthAdjust="spacingAndGlyphs" >Adobe Stock</text><text transform="translate(1028.7,750.3) rotate(-45)" textLength="159" lengthAdjust="spacingAndGlyphs" >Adobe Stock</text></g>
</svg></body></html>
